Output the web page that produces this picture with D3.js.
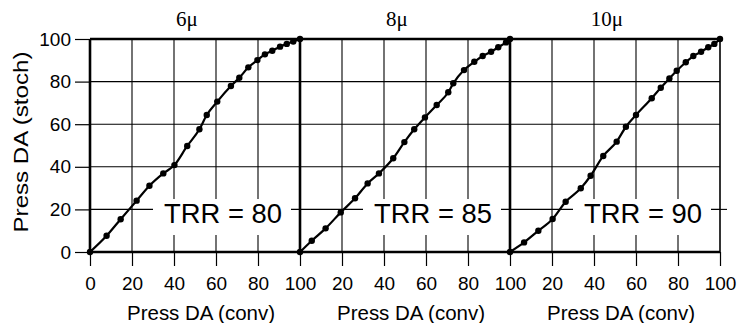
<!DOCTYPE html>
<html><head><meta charset="utf-8">
<script src="https://cdn.jsdelivr.net/npm/d3@7"></script>
<style>body{margin:0;background:#fff}svg{display:block}</style>
</head><body>
<svg id="c" width="743" height="323"></svg>
<script>
const panelTitles = ["6\u03bc", "8\u03bc", "10\u03bc"];
const trrLabels = ["TRR = 80", "TRR = 85", "TRR = 90"];
const xTicks = [0, 20, 40, 60, 80, 100];
const yTicks = [0, 20, 40, 60, 80, 100];
const xLabel = "Press DA (conv)";
const yLabel = "Press DA (stoch)";

const conv6  = [0, 7.9, 14.6, 22.2, 28.3, 34.9, 40.2, 46.3, 52.1, 55.6, 60.6, 67.1, 71.1, 75.4, 79.7, 83.3, 86.8, 90.5, 93.7, 96.8, 100];
const stoch6 = [0, 7.6, 15.4, 24.1, 31.1, 36.9, 40.8, 49.8, 57.6, 64.3, 70.6, 77.9, 81.8, 86.7, 90.1, 92.8, 94.5, 96.4, 97.7, 98.8, 100];
const conv8  = [0, 5.6, 12.2, 19.4, 26.2, 32.2, 37.6, 44.4, 49.7, 54.4, 59.5, 65.1, 70.6, 73.0, 78.1, 83.0, 87.0, 91.0, 94.4, 98.1, 100];
const stoch8 = [0, 5.3, 11.1, 18.6, 25.2, 32.2, 36.9, 44.0, 51.6, 57.6, 63.2, 69.0, 75.0, 79.2, 85.4, 89.3, 92.0, 94.0, 96.1, 98.4, 100];
const conv10  = [0, 6.7, 13.5, 20.3, 26.5, 33.7, 38.4, 44.4, 50.8, 55.2, 60.0, 67.5, 71.8, 75.9, 79.4, 83.7, 87.3, 91.0, 94.4, 97.3, 100];
const stoch10 = [0, 4.5, 10.0, 15.5, 23.6, 29.9, 35.8, 45.1, 51.8, 58.8, 64.3, 72.2, 77.1, 81.5, 85.1, 89.1, 92.0, 94.0, 96.1, 97.7, 100];

const panels = [
  {title: panelTitles[0], trr: trrLabels[0], xs: conv6, ys: stoch6},
  {title: panelTitles[1], trr: trrLabels[1], xs: conv8, ys: stoch8},
  {title: panelTitles[2], trr: trrLabels[2], xs: conv10, ys: stoch10}
];

const svg = d3.select("#c");
const leftX = 90, pw = 210, topY = 39, bottomY = 252;
const sans = "'Liberation Sans', Arial, Helvetica, sans-serif";
const serif = "'Liberation Serif', 'Times New Roman', serif";

const y = d3.scaleLinear().domain([0, 100]).range([bottomY, topY]);

// Y axis ticks + labels (left only)
const yAxis = d3.axisLeft(y).tickValues(yTicks).tickSize(15).tickPadding(4);
const ya = svg.append("g").attr("transform", `translate(${leftX},0)`).call(yAxis);
ya.select(".domain").remove();
ya.selectAll("line").attr("stroke", "#000").attr("stroke-width", 1.2);
ya.selectAll("text").attr("font-family", sans).attr("font-size", 19).attr("fill", "#000");

svg.append("text")
  .attr("transform", `translate(28,142) rotate(-90)`)
  .attr("text-anchor", "middle")
  .attr("font-family", sans).attr("font-size", 21)
  .attr("textLength", 181).attr("lengthAdjust", "spacingAndGlyphs")
  .text(yLabel);

panels.forEach((p, i) => {
  const x0 = leftX + i * pw;
  const x = d3.scaleLinear().domain([0, 100]).range([x0, x0 + pw]);
  const g = svg.append("g");

  // grid
  g.selectAll(".hg").data(yTicks.filter(v => v > 0 && v < 100)).enter().append("line")
    .attr("x1", x0).attr("x2", x0 + pw).attr("y1", d => y(d)).attr("y2", d => y(d))
    .attr("stroke", "#000").attr("stroke-width", 1.1);
  g.selectAll(".vg").data(xTicks.filter(v => v > 0 && v < 100)).enter().append("line")
    .attr("x1", d => x(d)).attr("x2", d => x(d)).attr("y1", topY).attr("y2", bottomY)
    .attr("stroke", "#000").attr("stroke-width", 1.1);

  // x axis ticks below
  const tv = i === 0 ? xTicks : xTicks.filter(v => v > 0);
  const xAxis = d3.axisBottom(x).tickValues(tv).tickSize(14).tickPadding(11);
  const xa = svg.append("g").attr("transform", `translate(0,${bottomY})`).call(xAxis);
  xa.select(".domain").remove();
  xa.selectAll("line").attr("stroke", "#000").attr("stroke-width", 1.2);
  xa.selectAll("text").attr("font-family", sans).attr("font-size", 19).attr("fill", "#000");

  // white box behind TRR text
  g.append("rect")
    .attr("x", x0 + 63).attr("y", 199).attr("width", 138).attr("height", 36)
    .attr("fill", "#fff");
  g.append("text")
    .attr("x", x0 + 74).attr("y", 223)
    .attr("font-family", sans).attr("font-size", 28)
    .attr("textLength", 118).attr("lengthAdjust", "spacingAndGlyphs")
    .text(p.trr);

  // title
  svg.append("text")
    .attr("x", x0 + pw / 2 - 8).attr("y", 26)
    .attr("text-anchor", "middle")
    .attr("font-family", serif).attr("font-size", 21)
    .text(p.title);

  // x label
  svg.append("text")
    .attr("x", x0 + pw / 2 + 6).attr("y", 320)
    .attr("text-anchor", "middle")
    .attr("font-family", sans).attr("font-size", 20)
    .attr("textLength", 148).attr("lengthAdjust", "spacingAndGlyphs")
    .text(xLabel);

  // data
  const pts = p.xs.map((v, k) => [v, p.ys[k]]);
  g.append("path").datum(pts)
    .attr("d", d3.line().x(d => x(d[0])).y(d => y(d[1])).curve(d3.curveMonotoneX))
    .attr("fill", "none").attr("stroke", "#000").attr("stroke-width", 2.2);
  g.selectAll("circle").data(pts).enter().append("circle")
    .attr("cx", d => x(d[0])).attr("cy", d => y(d[1])).attr("r", 3.2).attr("fill", "#000");
});

// frame lines
const frame = svg.append("g").attr("stroke", "#000");
frame.append("line").attr("x1", leftX).attr("x2", leftX + 3 * pw).attr("y1", topY).attr("y2", topY).attr("stroke-width", 2.4);
frame.append("line").attr("x1", leftX).attr("x2", leftX + 3 * pw).attr("y1", bottomY).attr("y2", bottomY).attr("stroke-width", 2.4);
[0, 1, 2].forEach(k => {
  frame.append("line").attr("x1", leftX + k * pw).attr("x2", leftX + k * pw).attr("y1", topY).attr("y2", bottomY).attr("stroke-width", 2.6);
});
frame.append("line").attr("x1", leftX + 3 * pw).attr("x2", leftX + 3 * pw).attr("y1", topY).attr("y2", bottomY).attr("stroke-width", 1.6);
// small right tick at y=20
frame.append("line").attr("x1", leftX + 3 * pw).attr("x2", leftX + 3 * pw + 7).attr("y1", y(20)).attr("y2", y(20)).attr("stroke-width", 1.1);
</script>
</body></html>
